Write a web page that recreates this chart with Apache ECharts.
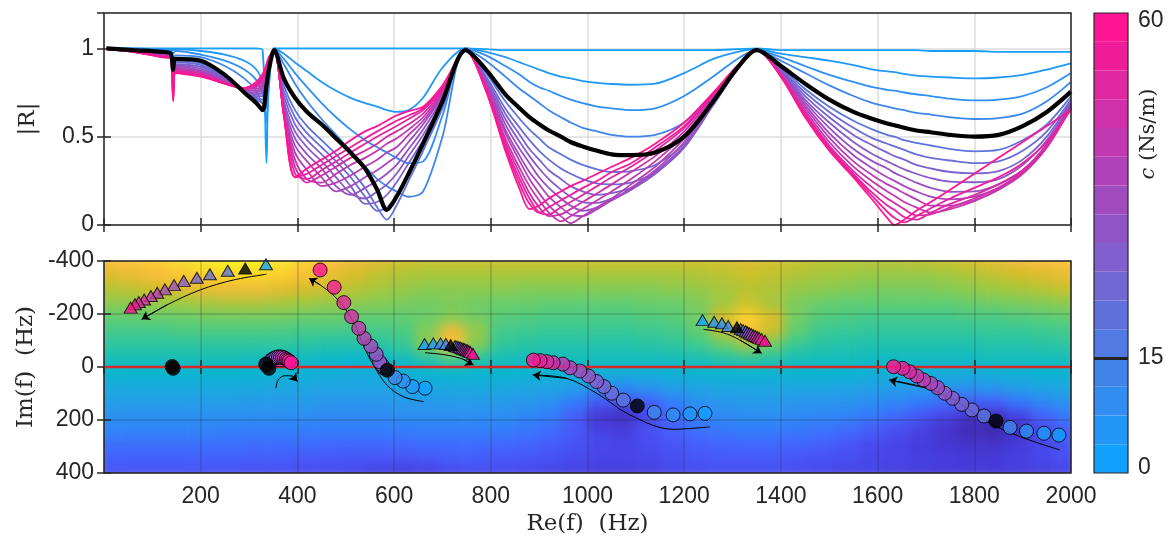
<!DOCTYPE html>
<html><head><meta charset="utf-8">
<script src="https://cdn.jsdelivr.net/npm/echarts@6/dist/echarts.min.js"></script>
<style>
html,body{margin:0;padding:0;background:#fff;}
#wrap{position:relative;width:1170px;height:542px;overflow:hidden;background:#fff;}
#bgclip{position:absolute;left:104px;top:261px;width:967px;height:212px;overflow:hidden;}
#bg{position:absolute;left:-9px;top:-7px;width:985px;height:226px;filter:blur(6px);}
#main{position:absolute;left:0;top:0;width:1170px;height:542px;}
</style></head><body>
<div id="wrap"><div id="bgclip"><div id="bg"></div></div><div id="main"></div></div>
<script>
// ---------- top panel: |R| curves ----------
const freq = [5,60,120,138,143,148,200,250,290,315,328,336,341,352,372,395,420,450,480,510,540,565,585,605,630,660,700,748,790,830,860,880,900,920,945,965,990,1020,1050,1090,1140,1200,1260,1310,1350,1400,1450,1500,1550,1590,1620,1635,1655,1680,1710,1750,1800,1850,1900,1950,2000];
const dampingC = [0,3.75,7.5,11.25,15,18.75,22.5,26.25,30,33.75,37.5,41.25,45,48.75,52.5,56.25,60];
const blackC = 15;
// |R| in percent
const R00 = [100,100,100,100,100,100,100,100,100,100,99,35,85,100, 100,100,100,100,100,100,100,100,100,100,100,100,100,100, 99.5,99,99,99,99,99,99,99,99,99,99,99,99,99,99,99.5,100, 99,99,99,99,99,99,99,99,99,98.5,98.5,98.5,98,98,98,98];
const R01 = [100,100,99.5,99.5,99,99.5,98.5,96.5,93,88,80,58,78,100, 97,92,87,81,76,72,69,67,65,64,65,72,89,100, 98,95,92,90,88,86,84,83,81.5,80.5,79.8,79.4,80,86,94,98,99.5, 97,95,93,90.5,88,87,86.5,85.5,84.5,84,83.5,83,83.5,85,88,91.5];
const R02 = [100,99.5,99,99,97,98.5,96.5,93,88,82,74,66,80,100, 94,86,78,69,61,54,48,44,41,38,35,36,62,100, 96,90,85,81,78,76,73,71,69,67,66,65,66,73,84,94,99, 95,90,85,81,78,76.5,76,75,74,73,71.5,70.5,71,73,78,86];
const R03 = [100,99,98.5,98,93,96,95,90,83,76,69,70,84,99.5, 91,80,70,60,51,42,33,26,22,19,16,19,50,100, 93,84,77,73,69,65,61,58,55,53,51,50,51,58,74,90,99, 93,86,79,73,69,67,66,65,63.5,62.5,61,60,60.5,63,70,81];
const R04 = [100,99,98,97,88,94,93,85,75,69,65,79,88,99, 83,72,64,57,49,41,32,20,8.5,16,29,46,70,99, 88,74,66,61,57,53.5,50,47,44.5,42,40,39.5,41,50,70,89,99, 90,80,71,64,60,57.5,56.5,55,53.5,52.5,51,50,51,56,64,75.5];
const R05 = [100,99,97.5,96.5,86,93,91.5,84,75,71,69,80,89,99, 79,65,56,48,40,31,21,10,3,11,25,42,66,99, 86,70,60,54,49,44,40,37,34,31.5,30,30.5,34,46,68,88,99, 89,77,67,59,54,51,50,48,46.5,45,43,41.7,42.5,48,57,72.8];
const R06 = [100,99,97.5,96.5,84.5,92,90.5,83.5,75.5,72,71,81,89.5,99, 76,61,52,44,36,27,16,8,10,17,30,45,67,99, 84,66,55,48,42,37,32,29,26,23.5,23,24,30,44,68,88,99, 88,75,64,55,49,46,44.5,42.5,40,38,36.5,35,36,42,53,71];
const R07 = [100,99,97,96,83,91,89.5,83,75.5,73,73,82,90,99, 73,57,48,40,32,22,12,13,17,24,35,48,69,99, 83,63,51,43,37,31,26,22,19,17,18,21,29,44,68,88,99, 87.5,73,61,51,45,41,39,37,34,32,30,29.2,30.5,37,50,70];
const R08 = [100,98.5,97,96,81.5,90.5,88.5,82.5,76,74,75,83,90.5,99, 70,53,44,36,27,18,15,19,23,29,39,51,70,99, 82,60,47,39,32,26,20,16,13,12.5,15,20,29,44,69,88,99, 87,71,58,47,40,36,34,31.5,29,26.5,24.5,24.2,26,34,48,69];
const R09 = [100,98.5,96.5,95.5,80,90,87.5,82,76,75,76.5,84,91,99, 68,49,40,32,22,17,21,25,29,34,43,54,72,99, 81,57,43,35,27,21,15,11,8,10,14,20,30,45,69,88,99, 86.5,69.5,55,43,36,32,29.5,27,24,21,18.8,19,23,31,46,68.6];
const R10 = [100,98.5,96.5,95.5,78.5,89,87,81.5,76.5,76,78,85.5,92,99, 66,45,36,27,19,22,27,31,35,39,47,57,73,99, 80,54,39,30,23,16,10,6,5,9,14,21,31,47,70,89,99, 86,68,52,39.5,32,27,25,22,19,16,14.5,16,21,30,45,68];
const R11 = [100,98.5,96,95,77,88.5,86.5,81,77,77,79.5,87,92.5,99, 65,41,31,22,24,28,33,37,41,44,51,59,74,99, 79,52,36,26,18,11,5,1,5,10,15,23,33,49,71,89,99, 85.5,66.5,49.5,36,28,23,21,18,14.5,11,11,14,20,29,44,67.5];
const R12 = [99.5,98,96,95,75,88,86,80.5,77,78,81,88,93,99, 64,37,26,24,29,34,38,42,46,49,54,61,75,99, 78,49,32,22,14,7,2,5,9,14,19,26,36,51,72,89,99, 85,65,47,33,24.5,19,16.5,13,10,7,9,13.5,20,29,44,67];
const R13 = [99.5,98,95.5,94.5,73.5,87.5,85.5,80.5,77,79,82.5,89,93.5,99, 63,33,24,28,33,38,42,46,50,53,57,63,76,99, 78,47,29,18,10,5,6,9,13,18,23,30,39,53,73,89,99, 84.5,63.5,45,30.5,21,15,12.5,9,5.5,6,10,15,21,30,44,66.5];
const R14 = [99.5,98,95.5,94.5,72,87,85,80,77.5,79.5,83.5,90,94,99, 62,29,26,31,36,41,46,50,53,56,60,65,77,99, 77,45,26,15,7,6,10,13,17,22,27,33,42,55,74,90,99, 84.5,62.5,44,29,18,11,8.5,4.5,3,7,12,17,23,31,45,66];
const R15 = [99.5,98,95,94,71,86.5,84.5,80,77.5,80,84.5,90.5,94.5,99, 62,27,29,34,39,44,49,53,56,59,62,66,78,99, 76,44,23,12,7,10,14,17,21,25,30,35,44,56,74,90,99, 84,61.5,43,28,16,7.5,4,1.5,5,9.5,15,21,27,35,47,65.5];
const R16 = [99.5,98,95,94,70,86,84,80,77.5,81,85.5,91,95,99, 62,27,32,37,42,48,53,56,59,62,64.5,67,79,99, 76,42,20,9,11,15,19,22,25,29,33,38,46,58,75,90,99, 84,61,42,27,14,4,0,3,8,13,20,29,38,47,56,65.2];
const curveR = [R00,R01,R02,R03,R04,R05,R06,R07,R08,R09,R10,R11,R12,R13,R14,R15,R16];

// ---------- bottom panel: background field (parula position, %) ----------
const fieldRe = [25,75,125,175,225,275,325,375,425,475,525,575,625,675,725,775,825,875,925,975,1025,1075,1125,1175,1225,1275,1325,1375,1425,1475,1525,1575,1625,1675,1725,1775,1825,1875,1925,1975];
const fieldIm = [-375,-325,-275,-225,-175,-125,-75,-25,25,75,125,175,225,275,325,375];
const F0 = [82,84,87,90,94,97,97,93,88,84,80,77,75,74,74,74,74,74,74,74,74,74,74,74,75,76,77,76,74,73,72,72,72,73,74,76,78,80,82,84];
const F1 = [77,79,82,85,88,90,90,87,83,79,76,73,71,70,70,70,70,70,70,70,70,70,70,70,71,72,74,73,71,70,69,68,68,68,69,71,73,75,77,79];
const F2 = [72,73,75,77,79,80,80,78,76,74,72,70,68,67,67,67,67,66,66,66,66,66,66,67,68,70,72,71,68,67,66,65,65,65,66,67,69,70,72,74];
const F3 = [67,67,68,69,70,71,71,70,69,68,67,66,65,64,65,64,63,63,62,62,62,62,63,63,65,69,74,70,65,63,62,62,62,62,62,63,64,65,66,67];
const F4 = [62,62,63,63,64,64,64,64,63,63,62,62,62,63,66,64,61,60,59,59,59,59,60,61,64,76,88,76,64,60,59,58,58,58,58,59,59,60,61,62];
const F5 = [58,58,58,59,59,59,59,59,58,58,58,58,59,66,80,68,58,57,56,56,56,56,57,58,62,72,82,74,62,57,56,55,55,55,55,55,56,56,57,58];
const F6 = [54,54,54,54,54,54,54,54,53,52,52,53,56,66,84,66,55,53,52,52,52,52,53,54,57,62,68,63,56,53,52,51,51,51,51,51,52,52,53,54];
const F7 = [49,49,49,49,49,49,48,48,46,45,44,45,47,52,58,53,49,48,48,48,48,48,48,49,50,52,54,52,49,48,48,47,47,47,47,47,48,48,48,49];
const F8 = [44,44,44,44,44,44,43,43,42,41,40,41,42,43,44,44,44,43,43,42,41,40,41,42,43,43,43,43,43,43,43,42,42,41,40,40,41,42,43,43];
const F9 = [39,39,39,39,39,39,39,38,38,37,37,37,38,39,39,39,39,38,37,35,31,29,32,35,37,38,38,38,38,38,37,36,35,34,33,32,33,35,37,38];
const F10 = [35,35,35,35,35,35,34,34,34,33,33,33,34,34,34,34,34,33,31,25,16,13,18,26,31,33,34,34,33,33,32,30,28,25,21,17,18,24,29,32];
const F11 = [31,31,31,31,31,31,30,30,30,29,29,29,30,30,30,30,30,28,25,17,6,4,11,20,26,29,30,30,29,28,27,24,20,15,10,5,3,9,18,24];
const F12 = [27,27,27,27,27,26,26,26,25,25,25,25,25,26,26,26,25,24,21,16,9,8,13,18,22,24,25,25,24,23,21,17,13,9,5,2,1,5,12,18];
const F13 = [22,22,22,22,22,22,21,21,21,20,20,20,20,21,21,21,20,19,17,14,11,10,12,15,18,19,20,20,19,18,15,12,10,8,6,5,5,7,11,15];
const F14 = [18,18,18,18,18,18,17,17,16,16,15,15,15,16,17,17,16,15,14,12,10,10,11,13,15,16,16,16,15,14,13,11,10,9,8,7,7,9,11,13];
const F15 = [14,14,14,14,14,14,13,13,12,12,11,9,8,9,11,12,12,11,10,9,8,8,9,11,12,13,13,13,12,11,10,10,9,8,7,7,7,8,9,10];
const fieldRows = [F0,F1,F2,F3,F4,F5,F6,F7,F8,F9,F10,F11,F12,F13,F14,F15];

// ---------- bottom panel: markers (Re, Im) in order of markerC ----------
const markerC = [0,3.75,7.5,11.25,18.75,22.5,26.25,30,33.75,37.5,41.25,45,48.75,52.5,56.25,60];
const circA_re = [664,638,619,602,580,577,574,570,563,552,538,527,512,496,476,447];
const circA_im = [80,74,53,40,5,-2,-10,-20,-48,-79,-108,-146,-190,-243,-301,-366];
const circB_re = [1243,1212,1177,1138,1074,1050,1034,1019,1002,984,964,949,929,916,902,888];
const circB_im = [175,177,181,171,125,99,74,55,34,15,3,-11,-16,-20,-24,-26];
const circC_re = [1975,1944,1908,1874,1820,1795,1774,1755,1739,1724,1710,1695,1681,1666,1652,1633];
const circC_im = [257,250,242,228,185,162,141,118,99,78,62,49,34,18,5,-1];
const circG_re = [336,336,335,335,345,349,353,357,361,365,369,373,377,380,383,387];
const circG_im = [-7,-8,-9,-10,-25,-30,-34,-37,-38,-38,-37,-34,-30,-26,-22,-16];
const triF_re = [335,null,null,null,256,219,192,165,145,126,110,97,83,72,64,55];
const triF_im = [-388,null,null,null,-363,-350,-337,-325,-309,-293,-280,-268,-255,-245,-237,-224];
const triD_re = [663,681,696,707,726,730,734,737,740,743,746,749,752,755,758,763];
const triD_im = [-87,-89,-89,-87,-79,-77,-75,-73,-71,-69,-67,-64,-62,-59,-56,-50];
const triE_re = [1238,1262,1278,1291,1317,1322,1327,1331,1335,1339,1343,1347,1351,1355,1360,1367];
const triE_im = [-177,-171,-165,-155,-143,-139,-135,-131,-127,-124,-120,-117,-113,-110,-106,-99];
const triG_re = [null,null,null,null,null,null,null,null,null,null,null,null,null,null,null,362];
const triG_im = [null,null,null,null,null,null,null,null,null,null,null,null,null,null,null,-22];
const blackCircles = [[586,12],[1103,147],[1845,204],[335,-11],[341,5],[141,-2],[143,5]];
const blackTriangles = [[292,-372],[717,-83],[1309,-150]];
const zeroLine = [[0,0],[2000,0]];
const arrowA = [[662,131],[619,112],[585,68],[557,-8],[536,-83],[516,-171],[481,-259],[447,-310],[424,-335]];
const arrowB = [[1253,226],[1177,235],[1088,181],[1019,99],[957,43],[887,30]];
const arrowC = [[1977,313],[1895,263],[1826,206],[1764,131],[1702,80],[1624,49]];
const arrowD = [[664,-54],[709,-45],[743,-29],[764,-8]];
const arrowE = [[1240,-142],[1281,-129],[1315,-102],[1360,-52]];
const arrowF = [[336,-350],[267,-328],[199,-291],[130,-234],[78,-180]];
const arrowG = [[356,80],[360,49],[374,33],[390,34],[400,55]];
const arrows = [arrowA,arrowB,arrowC,arrowD,arrowE,arrowF,arrowG];

// ---------- colorbar ----------
const cbMin = 0, cbMax = 60, cbBins = 16;
const cbTicks = [0,15,60];

// ---------- colours ----------
const C_LO = [18,160,255], C_HI = [255,20,147];
function cmap(c){const t=Math.max(0,Math.min(1,c/60));return 'rgb('+C_LO.map((v,i)=>Math.round(v+(C_HI[i]-v)*t)).join(',')+')';}
const PARULA = ['#3e26a8','#4537d5','#484df0','#4563fd','#327cfc','#2b91ef','#20a5e3','#08b5d0','#19bfb6','#37c897','#64cd6f','#9dc943','#d1bf27','#f8ba3d','#fccf30','#f5e924','#f9fb15'];

// ---------- background heat field ----------
const bg = echarts.init(document.getElementById('bg'));
const heatData = [];
fieldRows.forEach((row,j)=>row.forEach((v,i)=>heatData.push([i,j,v])));
bg.setOption({
  animation:false,
  grid:{left:0,right:0,top:0,bottom:0},
  xAxis:{type:'category',data:fieldRe,show:false},
  yAxis:{type:'category',data:fieldIm,show:false,inverse:true},
  visualMap:{show:false,min:0,max:100,dimension:2,inRange:{color:PARULA}},
  series:[{type:'heatmap',data:heatData,itemStyle:{borderWidth:0}}]
});

// ---------- main chart ----------
const axisCol = '#262626';
const sans = "'Liberation Sans', Arial, sans-serif";
const serif = "'DejaVu Serif', 'Liberation Serif', serif";
const tickFont = {fontFamily:sans,fontSize:23,color:axisCol};
const tick = {show:true,inside:true,length:7,lineStyle:{color:axisCol,width:1.5}};
const lightGrid = {show:true,lineStyle:{color:'#dcdcdc',width:1.5}};
const darkGrid = {show:true,lineStyle:{color:'rgba(30,30,30,0.22)',width:1.5}};
const nameStyle = {fontFamily:serif,fontSize:23,color:axisCol};
const SMOOTH = 0.3;

const series = [];
curveR.forEach((arr,k)=>{
  const c = dampingC[k];
  if (c===blackC) return;
  series.push({type:'line',xAxisIndex:0,yAxisIndex:0,data:freq.map((f,i)=>[f,arr[i]/100]),
    showSymbol:false,smooth:SMOOTH,silent:true,z:2,
    lineStyle:{width:1.8,color:cmap(c)},itemStyle:{color:cmap(c)}});
});
const kb = dampingC.indexOf(blackC);
series.push({type:'line',xAxisIndex:0,yAxisIndex:0,data:freq.map((f,i)=>[f,curveR[kb][i]/100]),
  showSymbol:false,smooth:SMOOTH,silent:true,z:3,lineStyle:{width:4.2,color:'#000'},itemStyle:{color:'#000'}});

series.push({type:'line',xAxisIndex:2,yAxisIndex:2,data:zeroLine,showSymbol:false,silent:true,z:3,
  lineStyle:{width:2.5,color:'#d42a2a'},itemStyle:{color:'#d42a2a'}});
arrows.forEach(a=>{
  series.push({type:'line',xAxisIndex:2,yAxisIndex:2,data:a,showSymbol:false,smooth:0.35,silent:true,z:4,
    lineStyle:{width:1,color:'#000'},itemStyle:{color:'#000'}});
});
series.push({type:'lines',coordinateSystem:'cartesian2d',xAxisIndex:2,yAxisIndex:2,silent:true,z:4,
  symbol:['none','arrow'],symbolSize:8,lineStyle:{color:'#000',width:1,opacity:1},
  data:arrows.map(a=>({coords:[a[a.length-2],a[a.length-1]]}))});
function markerData(re,im){
  const out=[];
  re.forEach((x,i)=>{ if(x==null) return; out.push({value:[x,im[i]],itemStyle:{color:cmap(markerC[i])}}); });
  return out;
}
const markerStyle = {borderColor:'#000',borderWidth:1};
[[triF_re,triF_im],[triD_re,triD_im],[triE_re,triE_im],[triG_re,triG_im]].forEach(g=>{
  series.push({type:'scatter',xAxisIndex:2,yAxisIndex:2,symbol:'triangle',symbolSize:[13,11],silent:true,z:5,
    itemStyle:markerStyle,data:markerData(g[0],g[1])});
});
[[circA_re,circA_im],[circB_re,circB_im],[circC_re,circC_im],[circG_re,circG_im]].forEach(g=>{
  series.push({type:'scatter',xAxisIndex:2,yAxisIndex:2,symbol:'circle',symbolSize:14,silent:true,z:5,
    itemStyle:markerStyle,data:markerData(g[0],g[1])});
});
series.push({type:'scatter',xAxisIndex:2,yAxisIndex:2,symbol:'triangle',symbolSize:[13,11],silent:true,z:6,
  itemStyle:{color:'#000',borderColor:'#000',borderWidth:1},data:blackTriangles});
series.push({type:'scatter',xAxisIndex:2,yAxisIndex:2,symbol:'circle',symbolSize:14,silent:true,z:6,
  itemStyle:{color:'#000',borderColor:'#000',borderWidth:1},data:blackCircles});
const binSize = (cbMax-cbMin)/cbBins;
for (let i=0;i<cbBins;i++){
  const s = {type:'bar',xAxisIndex:4,yAxisIndex:4,stack:'cb',data:[binSize],barWidth:'100%',silent:true,z:2,
    itemStyle:{color:cmap(cbMin + i/(cbBins-1)*(cbMax-cbMin))}};
  if (i===cbBins-1) s.markLine = {silent:true,symbol:['none','none'],label:{show:false},
    lineStyle:{color:'#222',width:3,type:'solid'},data:[{yAxis:blackC}]};
  series.push(s);
}

const chart = echarts.init(document.getElementById('main'));
chart.setOption({
  animation:false,
  backgroundColor:'transparent',
  textStyle:{fontFamily:sans},
  grid:[
    {left:104,top:13,width:967,height:212,show:true,borderColor:axisCol,borderWidth:1.5,backgroundColor:'transparent',z:8},
    {left:104,top:261,width:967,height:212,show:true,borderColor:axisCol,borderWidth:1.5,backgroundColor:'transparent',z:8},
    {left:1094,top:13,width:34,height:460,show:true,borderColor:axisCol,borderWidth:1.2,backgroundColor:'transparent',z:8}
  ],
  xAxis:[
    {gridIndex:0,type:'value',min:0,max:2000,interval:200,position:'bottom',axisLine:{show:false},axisTick:tick,axisLabel:{show:false},splitLine:lightGrid},
    {gridIndex:0,type:'value',min:0,max:2000,interval:200,position:'top',axisLine:{show:false},axisTick:tick,axisLabel:{show:false},splitLine:{show:false}},
    {gridIndex:1,type:'value',min:0,max:2000,interval:200,position:'bottom',axisLine:{show:false},axisTick:tick,
      axisLabel:Object.assign({margin:12,showMinLabel:false,formatter:v=>String(v)},tickFont),splitLine:darkGrid,
      name:'Re(f)  (Hz)',nameLocation:'middle',nameGap:40,nameTextStyle:nameStyle},
    {gridIndex:1,type:'value',min:0,max:2000,interval:200,position:'top',axisLine:{show:false},axisTick:tick,axisLabel:{show:false},splitLine:{show:false}},
    {gridIndex:2,type:'category',data:['c'],show:false,boundaryGap:true}
  ],
  yAxis:[
    {gridIndex:0,type:'value',min:0,max:1.2,interval:0.5,position:'left',axisLine:{show:false},axisTick:tick,
      axisLabel:Object.assign({margin:10,showMaxLabel:false,formatter:v=>String(v)},tickFont),splitLine:lightGrid,
      name:'|R|',nameLocation:'middle',nameGap:64,nameTextStyle:nameStyle},
    {gridIndex:0,type:'value',min:0,max:1.2,interval:0.5,position:'right',axisLine:{show:false},axisTick:tick,axisLabel:{show:false},splitLine:{show:false}},
    {gridIndex:1,type:'value',min:-400,max:400,interval:200,inverse:true,position:'left',axisLine:{show:false},axisTick:tick,
      axisLabel:Object.assign({margin:10,formatter:v=>String(v)},tickFont),splitLine:darkGrid,
      name:'Im(f)  (Hz)',nameLocation:'middle',nameGap:64,nameTextStyle:nameStyle},
    {gridIndex:1,type:'value',min:-400,max:400,interval:200,inverse:true,position:'right',axisLine:{show:false},axisTick:tick,axisLabel:{show:false},splitLine:{show:false}},
    {gridIndex:2,type:'value',min:cbMin,max:cbMax,interval:15,position:'right',axisLine:{show:false},axisTick:{show:false},splitLine:{show:false},
      axisLabel:Object.assign({margin:10,
        formatter:v=> cbTicks.indexOf(v)<0 ? '' : (v===cbMax ? '{t|'+v+'}' : (v===cbMin ? '{b|'+v+'}' : String(v))),
        rich:{t:Object.assign({padding:[16,0,0,0]},tickFont),b:Object.assign({padding:[0,0,10,0]},tickFont)}},tickFont)}
  ],
  graphic:[
    {type:'text',x:1149,y:134,rotation:Math.PI/2,silent:true,
      style:{text:'{i|c} (Ns/m)',fontFamily:serif,fontSize:21,fill:axisCol,align:'center',verticalAlign:'middle',
        rich:{i:{fontFamily:serif,fontSize:21,fontStyle:'italic',fill:axisCol}}}}
  ],
  series:series
});
</script>
</body></html>
